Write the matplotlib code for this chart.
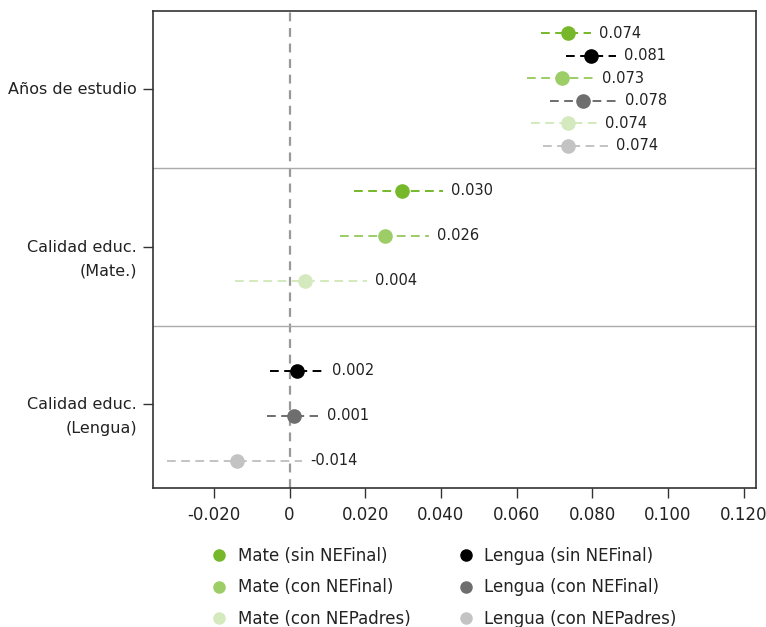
import numpy as np
import matplotlib.pyplot as plt
from matplotlib.lines import Line2D

plt.rcParams['font.family'] = ['DejaVu Sans']

groups = ['Años de estudio', 'Calidad educ.\n(Mate.)', 'Calidad educ.\n(Lengua)']

series = ['Mate (sin NEFinal)', 'Lengua (sin NEFinal)', 'Mate (con NEFinal)',
          'Lengua (con NEFinal)', 'Mate (con NEPadres)', 'Lengua (con NEPadres)']
colors = ['#76b82a', '#000000', '#9ccd66', '#6e6e6e', '#d4e9bd', '#c3c3c3']

# (group, series index, coef, lo, hi, label)
rows = [
    (0, 0, 0.0736, 0.0664, 0.0796, '0.074'),
    (0, 1, 0.0798, 0.0730, 0.0862, '0.081'),
    (0, 2, 0.0720, 0.0628, 0.0804, '0.073'),
    (0, 3, 0.0776, 0.0688, 0.0864, '0.078'),
    (0, 4, 0.0736, 0.0637, 0.0813, '0.074'),
    (0, 5, 0.0736, 0.0670, 0.0842, '0.074'),
    (1, 0, 0.0296, 0.0170, 0.0406, '0.030'),
    (1, 2, 0.0252, 0.0133, 0.0368, '0.026'),
    (1, 4, 0.0041, -0.0144, 0.0205, '0.004'),
    (2, 1, 0.0019, -0.0053, 0.0089, '0.002'),
    (2, 3, 0.0012, -0.0059, 0.0076, '0.001'),
    (2, 5, -0.0138, -0.0323, 0.0032, '-0.014'),
]

xticks = [-0.02, 0, 0.02, 0.04, 0.06, 0.08, 0.10, 0.12]
xticklabels = ['-0.020', '0', '0.020', '0.040', '0.060', '0.080', '0.100', '0.120']

fig = plt.figure(figsize=(7.66, 6.27), dpi=100)
ax = fig.add_axes([153/766, 1 - 488/627, (756 - 153)/766, (488 - 10.5)/627])

ax.axvline(0, color='#999999', lw=1.6, ls=(0, (4, 3)), zorder=1)
for b in [1, 2]:
    ax.axhline(b, color='#aaaaaa', lw=1.0, zorder=1)

for g, s, c, lo, hi, lab in rows:
    y = g + (s + 1) / 7
    ax.plot([lo, hi], [y, y], color=colors[s], lw=1.4, ls=(0, (4.5, 2.8)), zorder=2)
    ax.plot(c, y, 'o', color=colors[s], ms=9.5, zorder=3)
    ax.annotate(lab, (hi, y), xytext=(6, 0), textcoords='offset points',
                va='center', ha='left', fontsize=10.5, color='#222222')

ax.set_xlim(-0.0361, 0.1233)
ax.set_ylim(3.03, 0)
ax.set_xticks(xticks)
ax.set_xticklabels(xticklabels, fontsize=12, color='#222222')
ax.set_yticks([0.5, 1.5, 2.5])
ax.set_yticklabels([])
for i, name in enumerate(groups):
    multi = '\n' in name
    ax.annotate(name, (0, i + 0.5), xycoords=ax.get_yaxis_transform(),
                xytext=(-16, 7 if multi else 0), textcoords='offset pixels',
                ha='right', va='top' if multi else 'center',
                fontsize=11.5, color='#222222', multialignment='right',
                linespacing=1.75)

ax.tick_params(axis='both', length=7, width=1, color='#333333')
ax.tick_params(axis='x', pad=6)
for sp in ax.spines.values():
    sp.set_color('#333333')
    sp.set_linewidth(1.2)

order = [0, 2, 4, 1, 3, 5]
handles = [Line2D([], [], ls='none', marker='o', color=colors[i], ms=8) for i in order]
labels = [series[i] for i in order]
fig.legend(handles, labels, ncol=2, loc='upper left', bbox_to_anchor=(192/766, 1 - 532/627),
           frameon=False, fontsize=12, handletextpad=0.35, columnspacing=2.55,
           labelspacing=0.8, handlelength=1.5, labelcolor='#222222')

fig.savefig('out.png', dpi=100)
